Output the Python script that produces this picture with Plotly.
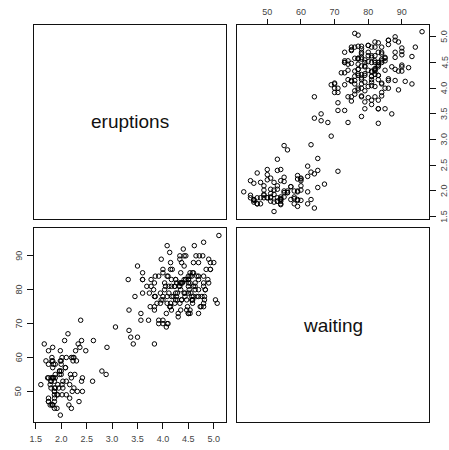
import plotly.graph_objects as go

eruptions = [3.600,1.800,3.333,2.283,4.533,2.883,4.700,3.600,1.950,4.350,1.833,3.917,4.200,1.750,4.700,2.167,1.750,4.800,1.600,4.250,
1.800,1.750,3.450,3.067,4.533,3.600,1.967,4.083,3.850,4.433,4.300,4.467,3.367,4.033,3.833,2.017,1.867,4.833,1.833,4.783,
4.350,1.883,4.567,1.750,4.533,3.317,3.833,2.100,4.633,2.000,4.800,4.716,1.833,4.833,1.733,4.883,3.717,1.667,4.567,4.317,
2.233,4.500,1.750,4.800,1.817,4.400,4.167,4.700,2.067,4.700,4.033,1.967,4.500,4.000,1.983,5.067,2.017,4.567,3.883,3.600,
4.133,4.333,4.100,2.633,4.067,4.933,3.950,4.517,2.167,4.000,2.200,4.333,1.867,4.817,1.833,4.300,4.667,3.750,1.867,4.900,
2.483,4.367,2.100,4.500,4.050,1.867,4.700,1.783,4.850,3.683,4.733,2.300,4.900,4.417,1.700,4.633,2.317,4.600,1.817,4.417,
2.617,4.067,4.250,1.967,4.600,3.767,1.917,4.500,2.267,4.650,1.867,4.167,2.800,4.333,1.833,4.383,1.883,4.933,2.033,3.733,
4.233,2.233,4.533,4.817,4.333,1.983,4.633,2.017,5.100,1.800,5.033,4.000,2.400,4.600,3.567,4.000,4.500,4.083,1.800,3.967,
2.200,4.150,2.000,3.833,3.500,4.583,2.367,5.000,1.933,4.617,1.917,2.083,4.583,3.333,4.167,4.333,4.500,2.417,4.000,4.167,
1.883,4.583,4.250,3.767,2.033,4.433,4.083,1.833,4.417,2.183,4.800,1.833,4.800,4.100,3.966,4.233,3.500,4.366,2.250,4.667,
2.100,4.350,4.133,1.867,4.600,1.783,4.367,3.850,1.933,4.500,2.383,4.700,1.867,3.833,3.417,4.233,2.400,4.800,2.000,4.150,
1.867,4.267,1.750,4.483,4.000,4.117,4.083,4.267,3.917,4.550,4.083,2.417,4.183,2.217,4.450,1.883,1.850,4.283,3.950,2.333,
4.150,2.350,4.933,2.900,4.583,3.833,2.083,4.367,2.133,4.350,2.200,4.450,3.567,4.500,4.150,3.817,3.917,4.450,2.000,4.283,
4.767,4.533,1.850,4.250,1.983,2.250,4.750,4.117,2.150,4.417,1.817,4.467]

waiting = [79,54,74,62,85,55,88,85,51,85,54,84,78,47,83,52,62,84,52,79,
51,47,78,69,74,83,55,76,78,79,73,77,66,80,74,52,48,80,59,90,
80,58,84,58,73,83,64,53,82,59,75,90,54,80,54,83,71,64,77,81,
59,84,48,82,60,92,78,78,65,73,82,56,79,71,62,76,60,78,76,83,
75,82,70,65,73,88,76,80,48,86,60,90,50,78,63,72,84,75,51,82,
62,88,49,83,81,47,84,52,86,81,75,59,89,79,59,81,50,85,59,87,
53,69,77,56,88,81,45,82,55,90,45,83,56,89,46,82,51,86,53,79,
81,60,82,77,76,59,80,49,96,53,77,77,65,81,71,70,81,93,53,89,
45,86,58,78,66,76,63,88,52,93,49,57,77,68,81,81,73,50,85,74,
55,77,83,83,51,78,84,46,83,55,81,57,76,84,77,81,87,77,51,78,
60,82,91,53,78,46,77,84,49,83,71,80,49,75,64,76,53,94,55,76,
50,82,54,75,78,79,78,78,70,79,70,54,86,50,90,54,54,77,79,64,
75,47,86,63,85,82,57,82,67,74,54,83,73,73,88,80,71,83,56,79,
78,84,58,83,43,60,75,81,46,90,46,74]

var_names = ["eruptions", "waiting"]
erup_ticks = [1.5, 2.0, 2.5, 3.0, 3.5, 4.0, 4.5, 5.0]
erup_labels = ["1.5", "2.0", "2.5", "3.0", "3.5", "4.0", "4.5", "5.0"]
wait_ticks = [50, 60, 70, 80, 90]
wait_labels = ["50", "60", "70", "80", "90"]

def ext(v):
    lo, hi = min(v), max(v)
    d = (hi - lo) * 0.04
    return [lo - d, hi + d]

erange = ext(eruptions)
wrange = ext(waiting)

W, H = 449, 450
xl = [30 / W, 224 / W]
xr = [234.7 / W, 429 / W]
yt = [(H - 218.7) / H, (H - 24.5) / H]
yb = [(H - 422.3) / H, (H - 228.3) / H]

fig = go.Figure()
mk = dict(symbol="circle-open", size=4.5, color="black", line=dict(width=1, color="black"))

# top-right: x = waiting, y = eruptions
fig.add_trace(go.Scatter(x=waiting, y=eruptions, mode="markers", marker=mk,
                         xaxis="x2", yaxis="y2", showlegend=False, hoverinfo="skip"))
# bottom-left: x = eruptions, y = waiting
fig.add_trace(go.Scatter(x=eruptions, y=waiting, mode="markers", marker=mk,
                         xaxis="x3", yaxis="y3", showlegend=False, hoverinfo="skip"))

tickfont = dict(family="Liberation Sans, Arial, sans-serif", size=9, color="#444")
box = dict(showline=True, mirror=True, linecolor="#111", linewidth=1, showgrid=False, zeroline=False)
blank = dict(box, showticklabels=False, ticks="", range=[0, 1], fixedrange=True)

fig.update_layout(
    width=W, height=H,
    margin=dict(l=0, r=0, t=0, b=0),
    paper_bgcolor="white", plot_bgcolor="white",
    xaxis=dict(blank, domain=xl, anchor="y"),
    yaxis=dict(blank, domain=yt, anchor="x"),
    xaxis2=dict(box, domain=xr, anchor="y2", range=wrange, side="top", ticks="outside",
                ticklen=5, tickcolor="#111", tickvals=wait_ticks, ticktext=wait_labels,
                tickfont=tickfont),
    yaxis2=dict(box, domain=yt, anchor="x2", range=erange, side="right", ticks="outside",
                ticklen=6, tickcolor="#111", tickvals=erup_ticks, showticklabels=False),
    xaxis3=dict(box, domain=xl, anchor="y3", range=erange, side="bottom", ticks="outside",
                ticklen=6, tickcolor="#111", tickvals=erup_ticks, ticktext=erup_labels,
                tickfont=tickfont, ticklabelstandoff=2),
    yaxis3=dict(box, domain=yb, anchor="x3", range=wrange, side="left", ticks="outside",
                ticklen=6, tickcolor="#111", tickvals=wait_ticks, showticklabels=False),
    xaxis4=dict(blank, domain=xr, anchor="y4"),
    yaxis4=dict(blank, domain=yb, anchor="x4"),
)

# rotated y tick labels (read bottom to top), placed on the axes' own scales
for v, t in zip(erup_ticks, erup_labels):
    fig.add_annotation(x=444 / W, y=v, xref="paper", yref="y2", text=t, textangle=-90,
                       showarrow=False, font=tickfont, xanchor="center", yanchor="middle")
for v, t in zip(wait_ticks, wait_labels):
    fig.add_annotation(x=15 / W, y=v, xref="paper", yref="y3", text=t, textangle=-90,
                       showarrow=False, font=tickfont, xanchor="center", yanchor="middle")

labfont = dict(family="Liberation Sans, Arial, sans-serif", size=19, color="#111")
fig.add_annotation(x=0.5, y=0.5, xref="x", yref="y", text=var_names[0], showarrow=False, font=labfont)
fig.add_annotation(x=0.5, y=0.5, xref="x4", yref="y4", text=var_names[1], showarrow=False, font=labfont)

fig.write_html("out.html")
